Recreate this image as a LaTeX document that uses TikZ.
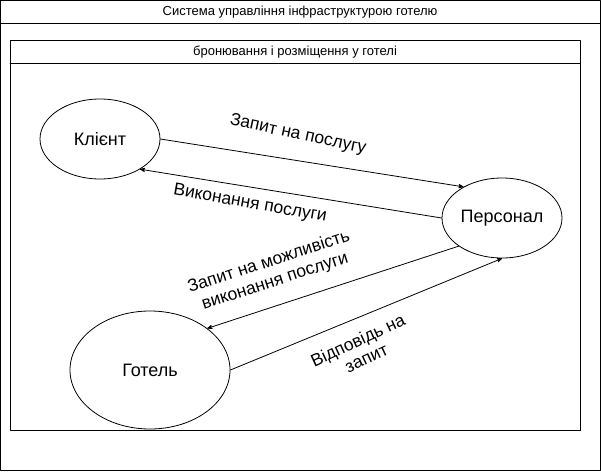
\documentclass[tikz,border=0pt]{standalone}
\usepackage{fontspec}
\setmainfont{Liberation Sans}
\usetikzlibrary{arrows,shapes.geometric}

\tikzset{
  actor/.style={draw,ellipse,minimum width=120pt,minimum height=80pt,inner sep=0pt,font=\fontsize{18}{21}\selectfont},
  msg/.style={font=\fontsize{17.5}{20}\selectfont,align=center,inner sep=0pt},
  head/.style={font=\fontsize{13}{15}\selectfont,inner sep=0pt},
}

\begin{document}
\begin{tikzpicture}[line cap=round,line join=round,>=stealth',x=1pt,y=-1pt,line width=0.8pt]
\useasboundingbox (0,0) rectangle (601,471);
% outer frame
\draw (0.5,0.5) rectangle (600.5,470.5);
\draw (0.5,23) -- (600.5,23);
\node[head] (sys) at (300,12) {Система управління інфраструктурою готелю};
% inner frame
\draw (10,40) rectangle (580,430);
\draw (10,63) -- (580,63);
\node[head] (zone) at (295,52) {бронювання і розміщення у готелі};
% actors
\node[actor] (client) at (100,139) {Клієнт};
\node[actor] (staff) at (502,218) {Персонал};
\node[actor,minimum width=160pt,minimum height=118pt] (hotel) at (150,370) {Готель};
% messages
\draw[->] (client.east) -- (staff.141);
\draw[->] (staff.west) -- (client.-37);
\draw[->] (staff.213) -- (hotel.36);
\draw[->] (hotel.east) -- (staff.south);
\node[msg,rotate=-12] (req) at (298,135) {Запит на послугу};
\node[msg,rotate=-10] (done) at (250,204) {Виконання послуги};
\node[msg,rotate=18] (check) at (272,272) {Запит на можливість\\виконання послуги};
\node[msg,rotate=25] (reply) at (362,349) {Відповідь на\\запит};
\end{tikzpicture}
\end{document}
